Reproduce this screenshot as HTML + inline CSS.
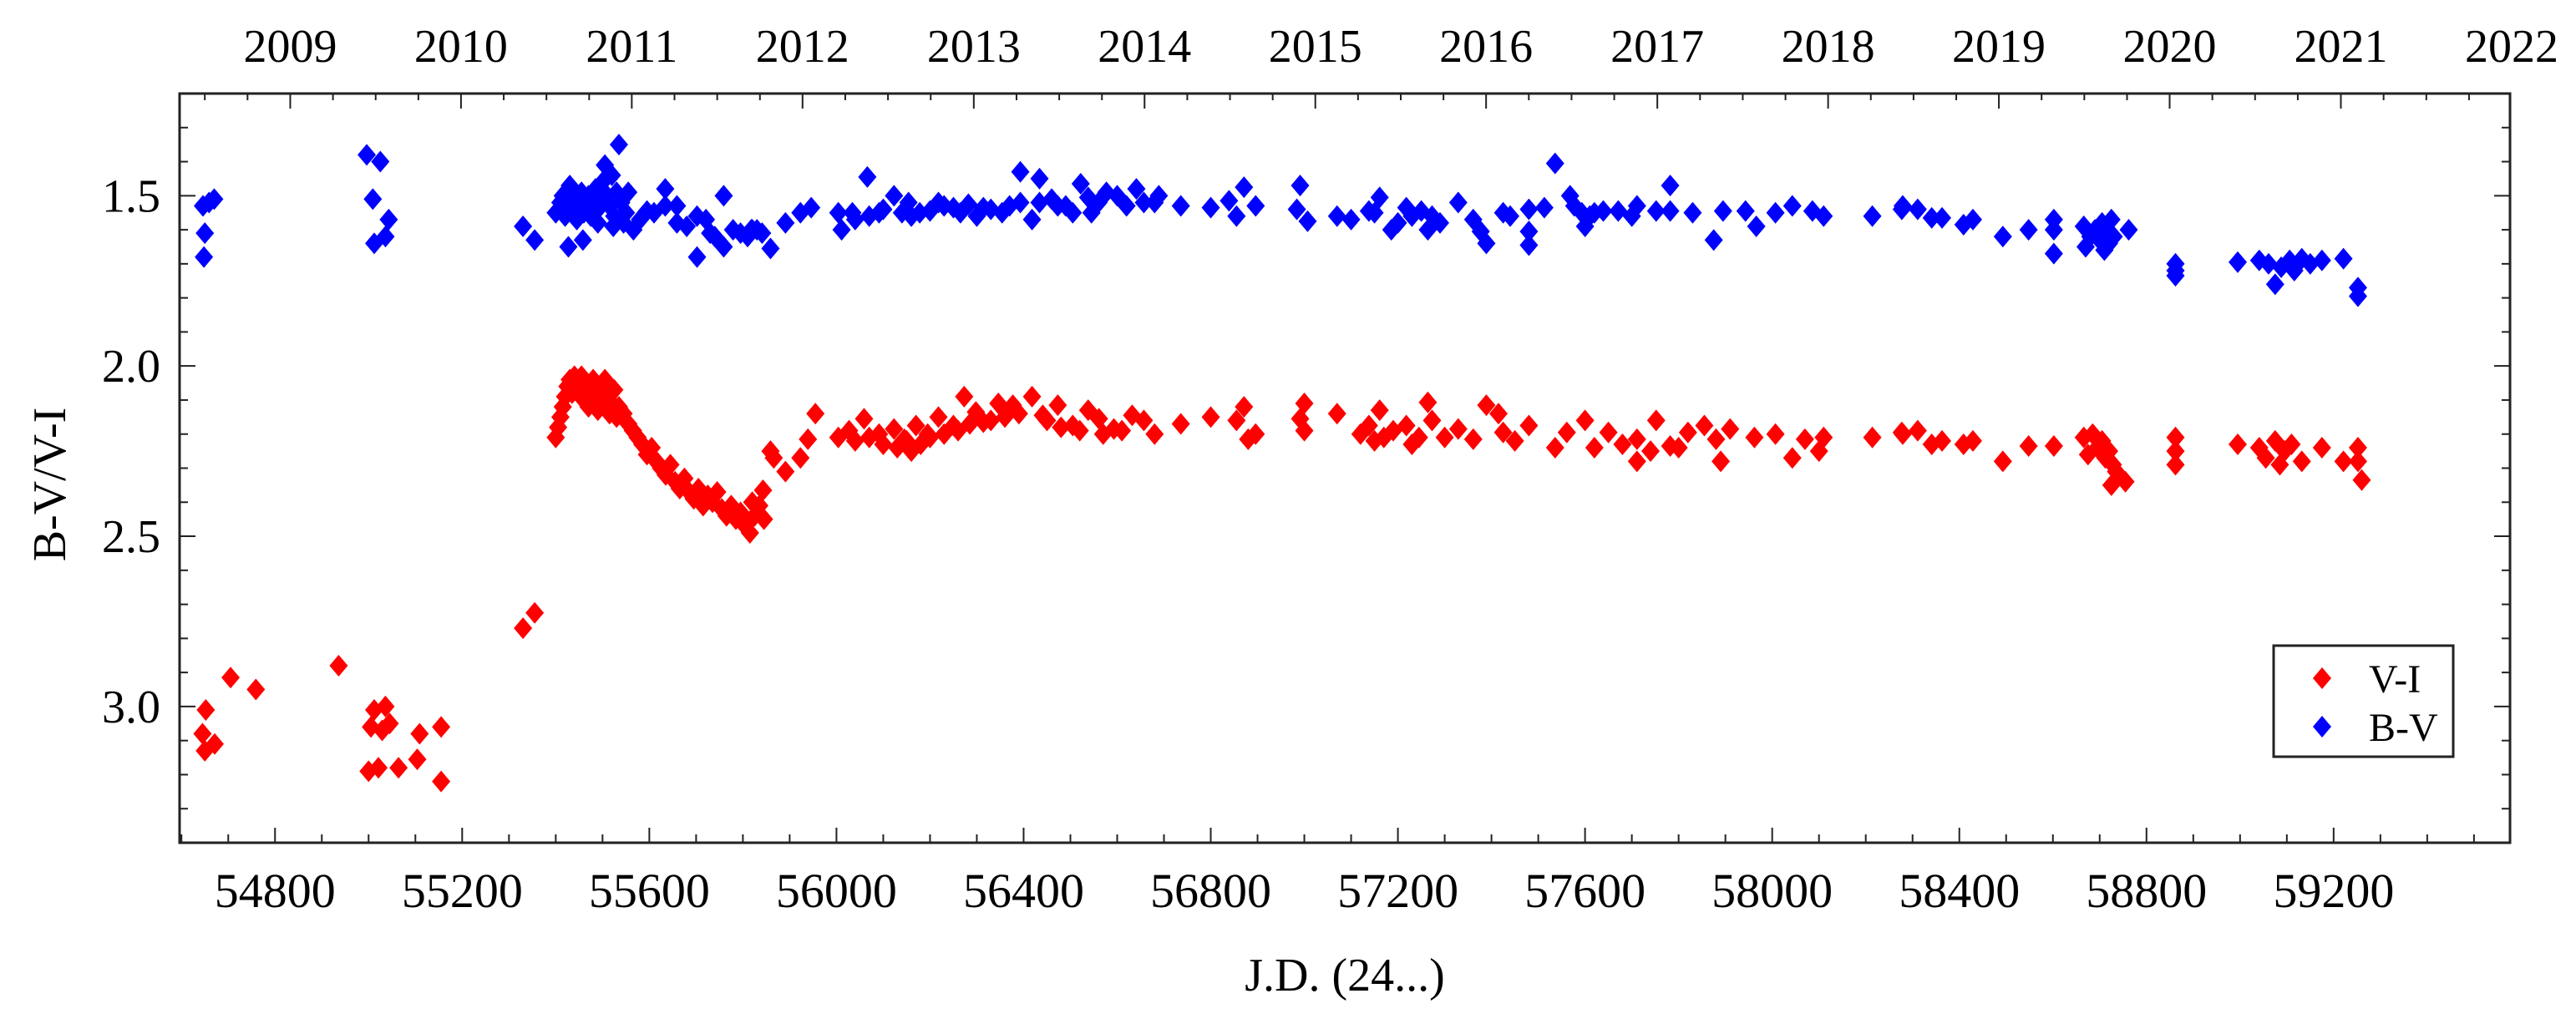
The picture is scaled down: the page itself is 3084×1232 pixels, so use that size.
<!DOCTYPE html>
<html><head><meta charset="utf-8"><style>
html,body{margin:0;padding:0;background:#fff;}
svg{display:block;}
text{font-family:"Liberation Serif",serif;fill:#000;}
</style></head><body>
<svg id="chart" width="3084" height="1232" viewBox="0 0 3084 1232" xmlns="http://www.w3.org/2000/svg">
<g id="marks"></g>
<g id="axes"></g>
</svg>
<script>
const bvJD=[54646,54670,54650,54648,54659,54996,55025,55009,55043,55012,55036,55330,55355,
55400,55410,55415,55420,55425,55430,55435,55440,55445,55450,55455,55460,55465,55470,55475,55480,55485,55490,55495,55500,55505,55510,55515,55520,55525,55530,55535,55540,55545,55550,55427,55458,55523,55490,
55566,55555,55595,55634,55634,55659,55659,55702,55702,55721,55730,55759,55759,55779,55795,55818,55841,55580,55610,55680,55740,55810,55830,
55820,55859,55891,55923,55946,56011,56004,56034,56066,56091,56123,56154,56178,56218,56250,56282,56314,56354,56393,56434,56393,56418,56434,56473,56505,56522,56538,56545,56577,56641,56657,56689,56736,56800,56839,56855,56871,56896,56991,56984,57007,
57070,57138,57161,57186,57218,57250,57264,57273,57329,57361,57377,57389,57425,57480,57480,57480,57536,57513,57568,57577,57593,57600,57639,57671,57711,57752,57782,57782,57830,57875,57895,57943,57966,58007,58043,58086,58110,58214,58277,
58279,58311,58341,58363,58409,58429,58493,58548,58602,58602,58602,58666,58670,58680,58690,58700,58705,58710,58715,58720,58725,58730,58762,58862,58862,58862,58995,59041,59061,59075,59088,59106,59116,59132,59150,59175,59221,59252,59252,
56040,56070,56100,56140,56160,56200,56230,56265,56300,56330,56370,56460,56490,56560,56600,56620,56680,57100,57150,57200,57230,57290,57440,57610,57620,57700];
const bvVal=[1.53,1.51,1.61,1.68,1.52,1.38,1.40,1.51,1.57,1.64,1.62,1.59,1.63,
1.55,1.52,1.50,1.56,1.53,1.47,1.54,1.51,1.57,1.52,1.49,1.55,1.53,1.50,1.56,1.52,1.48,1.54,1.51,1.46,1.41,1.50,1.53,1.44,1.56,1.49,1.35,1.52,1.58,1.55,1.65,1.63,1.59,1.58,
1.60,1.49,1.545,1.48,1.53,1.53,1.58,1.56,1.68,1.57,1.61,1.50,1.65,1.60,1.61,1.60,1.61,1.57,1.55,1.59,1.62,1.62,1.60,
1.60,1.655,1.58,1.55,1.535,1.60,1.55,1.55,1.445,1.55,1.50,1.52,1.55,1.52,1.535,1.525,1.535,1.55,1.43,1.45,1.52,1.57,1.52,1.53,1.55,1.465,1.505,1.55,1.49,1.48,1.52,1.50,1.53,1.535,1.515,1.56,1.475,1.53,1.47,1.54,1.575,
1.56,1.545,1.505,1.60,1.535,1.545,1.60,1.56,1.52,1.57,1.605,1.64,1.55,1.54,1.605,1.645,1.405,1.535,1.50,1.53,1.55,1.59,1.545,1.545,1.53,1.545,1.47,1.545,1.55,1.63,1.545,1.545,1.59,1.55,1.53,1.545,1.56,1.56,1.54,
1.53,1.54,1.565,1.565,1.585,1.57,1.62,1.60,1.57,1.60,1.67,1.59,1.65,1.62,1.60,1.63,1.58,1.66,1.61,1.64,1.57,1.62,1.60,1.70,1.735,1.72,1.695,1.69,1.70,1.76,1.71,1.69,1.72,1.685,1.70,1.69,1.685,1.77,1.795,
1.57,1.56,1.54,1.55,1.56,1.545,1.53,1.55,1.56,1.54,1.53,1.51,1.53,1.52,1.50,1.53,1.52,1.57,1.55,1.58,1.56,1.58,1.56,1.56,1.55,1.56];
const viJD=[54652,54645,54650,54671,54705,54759,54936,55000,55021,55064,55012,55036,55005,55029,55045,55109,55104,55155,55155,55330,55355,
55400,55405,55410,55415,55420,55425,55430,55435,55440,55445,55450,55455,55460,55465,55470,55475,55480,55485,55490,55495,55500,55505,55510,55515,55520,55525,55530,55535,55545,55555,55565,55575,55585,55595,55605,55615,55625,55635,55645,55655,55665,55675,55685,55695,55705,55715,55725,55735,55745,55755,55765,55775,55785,55795,55805,55815,55825,55835,55845,
55820,55843,55859,55866,55891,55923,55939,55955,56004,56027,56059,56091,56123,56145,56170,56195,56218,56250,56273,56298,56314,56346,56377,56418,56441,56473,56505,56538,56561,56593,56632,56657,56736,56800,56855,56871,56880,56896,57000,56991,57000,
57070,57138,57161,57170,57218,57245,57264,57273,57329,57361,57389,57425,57415,57480,57536,57561,57600,57650,57711,57711,57752,57782,57820,57855,57890,57880,57910,57962,58007,58043,58070,58110,58100,58214,58277,
58279,58311,58341,58363,58409,58429,58493,58548,58602,58666,58675,58685,58695,58705,58712,58720,58728,58725,58755,58735,58862,58862,58862,58995,59041,59055,59075,59085,59095,59110,59132,59175,59221,59252,59252,59260,
56040,56070,56100,56130,56150,56160,56180,56200,56230,56260,56285,56330,56360,56390,56450,56480,56520,56570,56610,56680,57120,57150,57190,57230,57300,57450,57620,57680,57740,57800];
const viVal=[3.01,3.08,3.13,3.11,2.915,2.95,2.88,3.19,3.18,3.18,3.01,3.00,3.06,3.07,3.05,3.08,3.155,3.06,3.22,2.77,2.725,
2.21,2.18,2.15,2.12,2.09,2.06,2.04,2.08,2.03,2.05,2.07,2.03,2.10,2.05,2.12,2.08,2.04,2.10,2.13,2.06,2.11,2.04,2.09,2.14,2.11,2.07,2.15,2.12,2.14,2.17,2.19,2.21,2.23,2.26,2.24,2.28,2.30,2.32,2.29,2.34,2.36,2.33,2.37,2.39,2.36,2.41,2.38,2.40,2.37,2.42,2.44,2.41,2.45,2.43,2.47,2.49,2.44,2.41,2.45,
2.40,2.365,2.25,2.27,2.31,2.27,2.215,2.14,2.21,2.19,2.155,2.20,2.185,2.215,2.175,2.20,2.15,2.175,2.09,2.135,2.165,2.11,2.115,2.09,2.145,2.115,2.175,2.13,2.155,2.185,2.145,2.16,2.17,2.15,2.16,2.12,2.215,2.20,2.11,2.155,2.19,
2.14,2.175,2.13,2.21,2.175,2.21,2.107,2.16,2.185,2.215,2.115,2.195,2.14,2.175,2.24,2.195,2.16,2.195,2.215,2.28,2.16,2.235,2.195,2.175,2.28,2.215,2.185,2.21,2.20,2.27,2.215,2.21,2.25,2.21,2.195,
2.20,2.19,2.23,2.22,2.23,2.22,2.28,2.235,2.235,2.21,2.26,2.20,2.24,2.22,2.27,2.25,2.29,2.35,2.34,2.31,2.21,2.25,2.29,2.23,2.24,2.27,2.22,2.29,2.25,2.23,2.28,2.24,2.28,2.24,2.28,2.335,
2.22,2.21,2.23,2.24,2.22,2.25,2.23,2.21,2.20,2.19,2.17,2.16,2.15,2.14,2.16,2.18,2.19,2.20,2.19,2.20,2.20,2.22,2.19,2.23,2.21,2.22,2.24,2.23,2.25,2.24];
const xTicksMajor=[54800,55200,55600,56000,56400,56800,57200,57600,58000,58400,58800,59200];
const yTicksMajor=[1.5,2.0,2.5,3.0];
const yearLabels=[2009,2010,2011,2012,2013,2014,2015,2016,2017,2018,2019,2020,2021,2022];
const yearJD=[54832.5,55197.5,55562.5,55927.5,56293.5,56658.5,57023.5,57388.5,57754.5,58119.5,58484.5,58849.5,59215.5,59580.5];

const L=215,R=3005,T=112,B=1009;
const X0=54596,X1=59577,Y0=1.2,Y1=3.4;
const sx=j=>L+(j-X0)/(X1-X0)*(R-L);
const sy=v=>T+(v-Y0)/(Y1-Y0)*(B-T);
const NS="http://www.w3.org/2000/svg";
const marks=document.getElementById('marks');
const axes=document.getElementById('axes');
function mk(tag,attrs,parent){const e=document.createElementNS(NS,tag);for(const k in attrs)e.setAttribute(k,attrs[k]);parent.appendChild(e);return e;}
function diamond(cx,cy,color,parent){
  return mk('polygon',{points:`${cx},${cy-13} ${cx+11},${cy} ${cx},${cy+13} ${cx-11},${cy}`,fill:color},parent);
}
for(let i=0;i<viJD.length;i++){
  const d=diamond(sx(viJD[i]),sy(viVal[i]),'#ff0000',marks);
  
  
}
for(let i=0;i<bvJD.length;i++){
  const d=diamond(sx(bvJD[i]),sy(bvVal[i]),'#0000ff',marks);
  
  
}
const frame=mk('rect',{x:L,y:T,width:R-L,height:B-T,fill:'none',stroke:'#222',"stroke-width":3},axes);


for(let j=54600;j<=59500;j+=100){
  const x=sx(j);const major=(j%400===0);
  const t=mk('line',{x1:x,x2:x,y1:B,y2:B-(major?18:10),stroke:'#222',"stroke-width":2},axes);
  
  
}
xTicksMajor.forEach(j=>{
  const t=mk('text',{x:sx(j),y:1086,"font-size":58,"text-anchor":"middle"},axes);
  t.textContent=j;
  
  
});
for(let i=0;i<yearJD.length;i++){
  for(let q=0;q<4;q++){
    const j=yearJD[i]+q*91.3;
    if(j<X0||j>X1)continue;
    const x=sx(j);
    const t=mk('line',{x1:x,x2:x,y1:T,y2:T+(q===0?18:8),stroke:'#222',"stroke-width":2},axes);
    
    
  }
  for(let q=1;q<4;q++){
    const j=yearJD[i]-q*91.3;
    if(i===0&&j>X0){const x=sx(j);const t=mk('line',{x1:x,x2:x,y1:T,y2:T+8,stroke:'#222',"stroke-width":2},axes);
      
      }
  }
  const lb=mk('text',{x:sx(yearJD[i]),y:74,"font-size":56,"text-anchor":"middle"},axes);
  lb.textContent=yearLabels[i];
  
  
}
for(let k=12;k<=34;k++){
  const v=k/10;const y=sy(v);const major=(k%5===0);
  const t1=mk('line',{x1:L,x2:L+(major?19:10),y1:y,y2:y,stroke:'#222',"stroke-width":2},axes);
  
  
  const t2=mk('line',{x1:R,x2:R-(major?19:10),y1:y,y2:y,stroke:'#222',"stroke-width":2},axes);
  
  
}
yTicksMajor.forEach(v=>{
  const t=mk('text',{x:192,y:sy(v)+19,"font-size":56,"text-anchor":"end"},axes);
  t.textContent=v.toFixed(1);
  
  
});
const xt=mk('text',{x:1610,y:1186,"font-size":56,"text-anchor":"middle"},axes);
xt.textContent='J.D. (24...)';


const yt=mk('text',{x:0,y:0,"font-size":56,"text-anchor":"middle",transform:"translate(78,580) rotate(-90)"},axes);
yt.textContent='B-V/V-I';


const lg=mk('g',{},axes);


mk('rect',{x:2722,y:773,width:215,height:133,fill:'#fff',stroke:'#222',"stroke-width":3},lg);
const e1=mk('g',{},lg);


diamond(2780,812,'#ff0000',e1);
const l1=mk('text',{x:2836,y:829,"font-size":48},e1);l1.textContent='V-I';
const e2=mk('g',{},lg);


diamond(2780,870,'#0000ff',e2);
const l2=mk('text',{x:2836,y:887,"font-size":48},e2);l2.textContent='B-V';
</script>
</body></html>
